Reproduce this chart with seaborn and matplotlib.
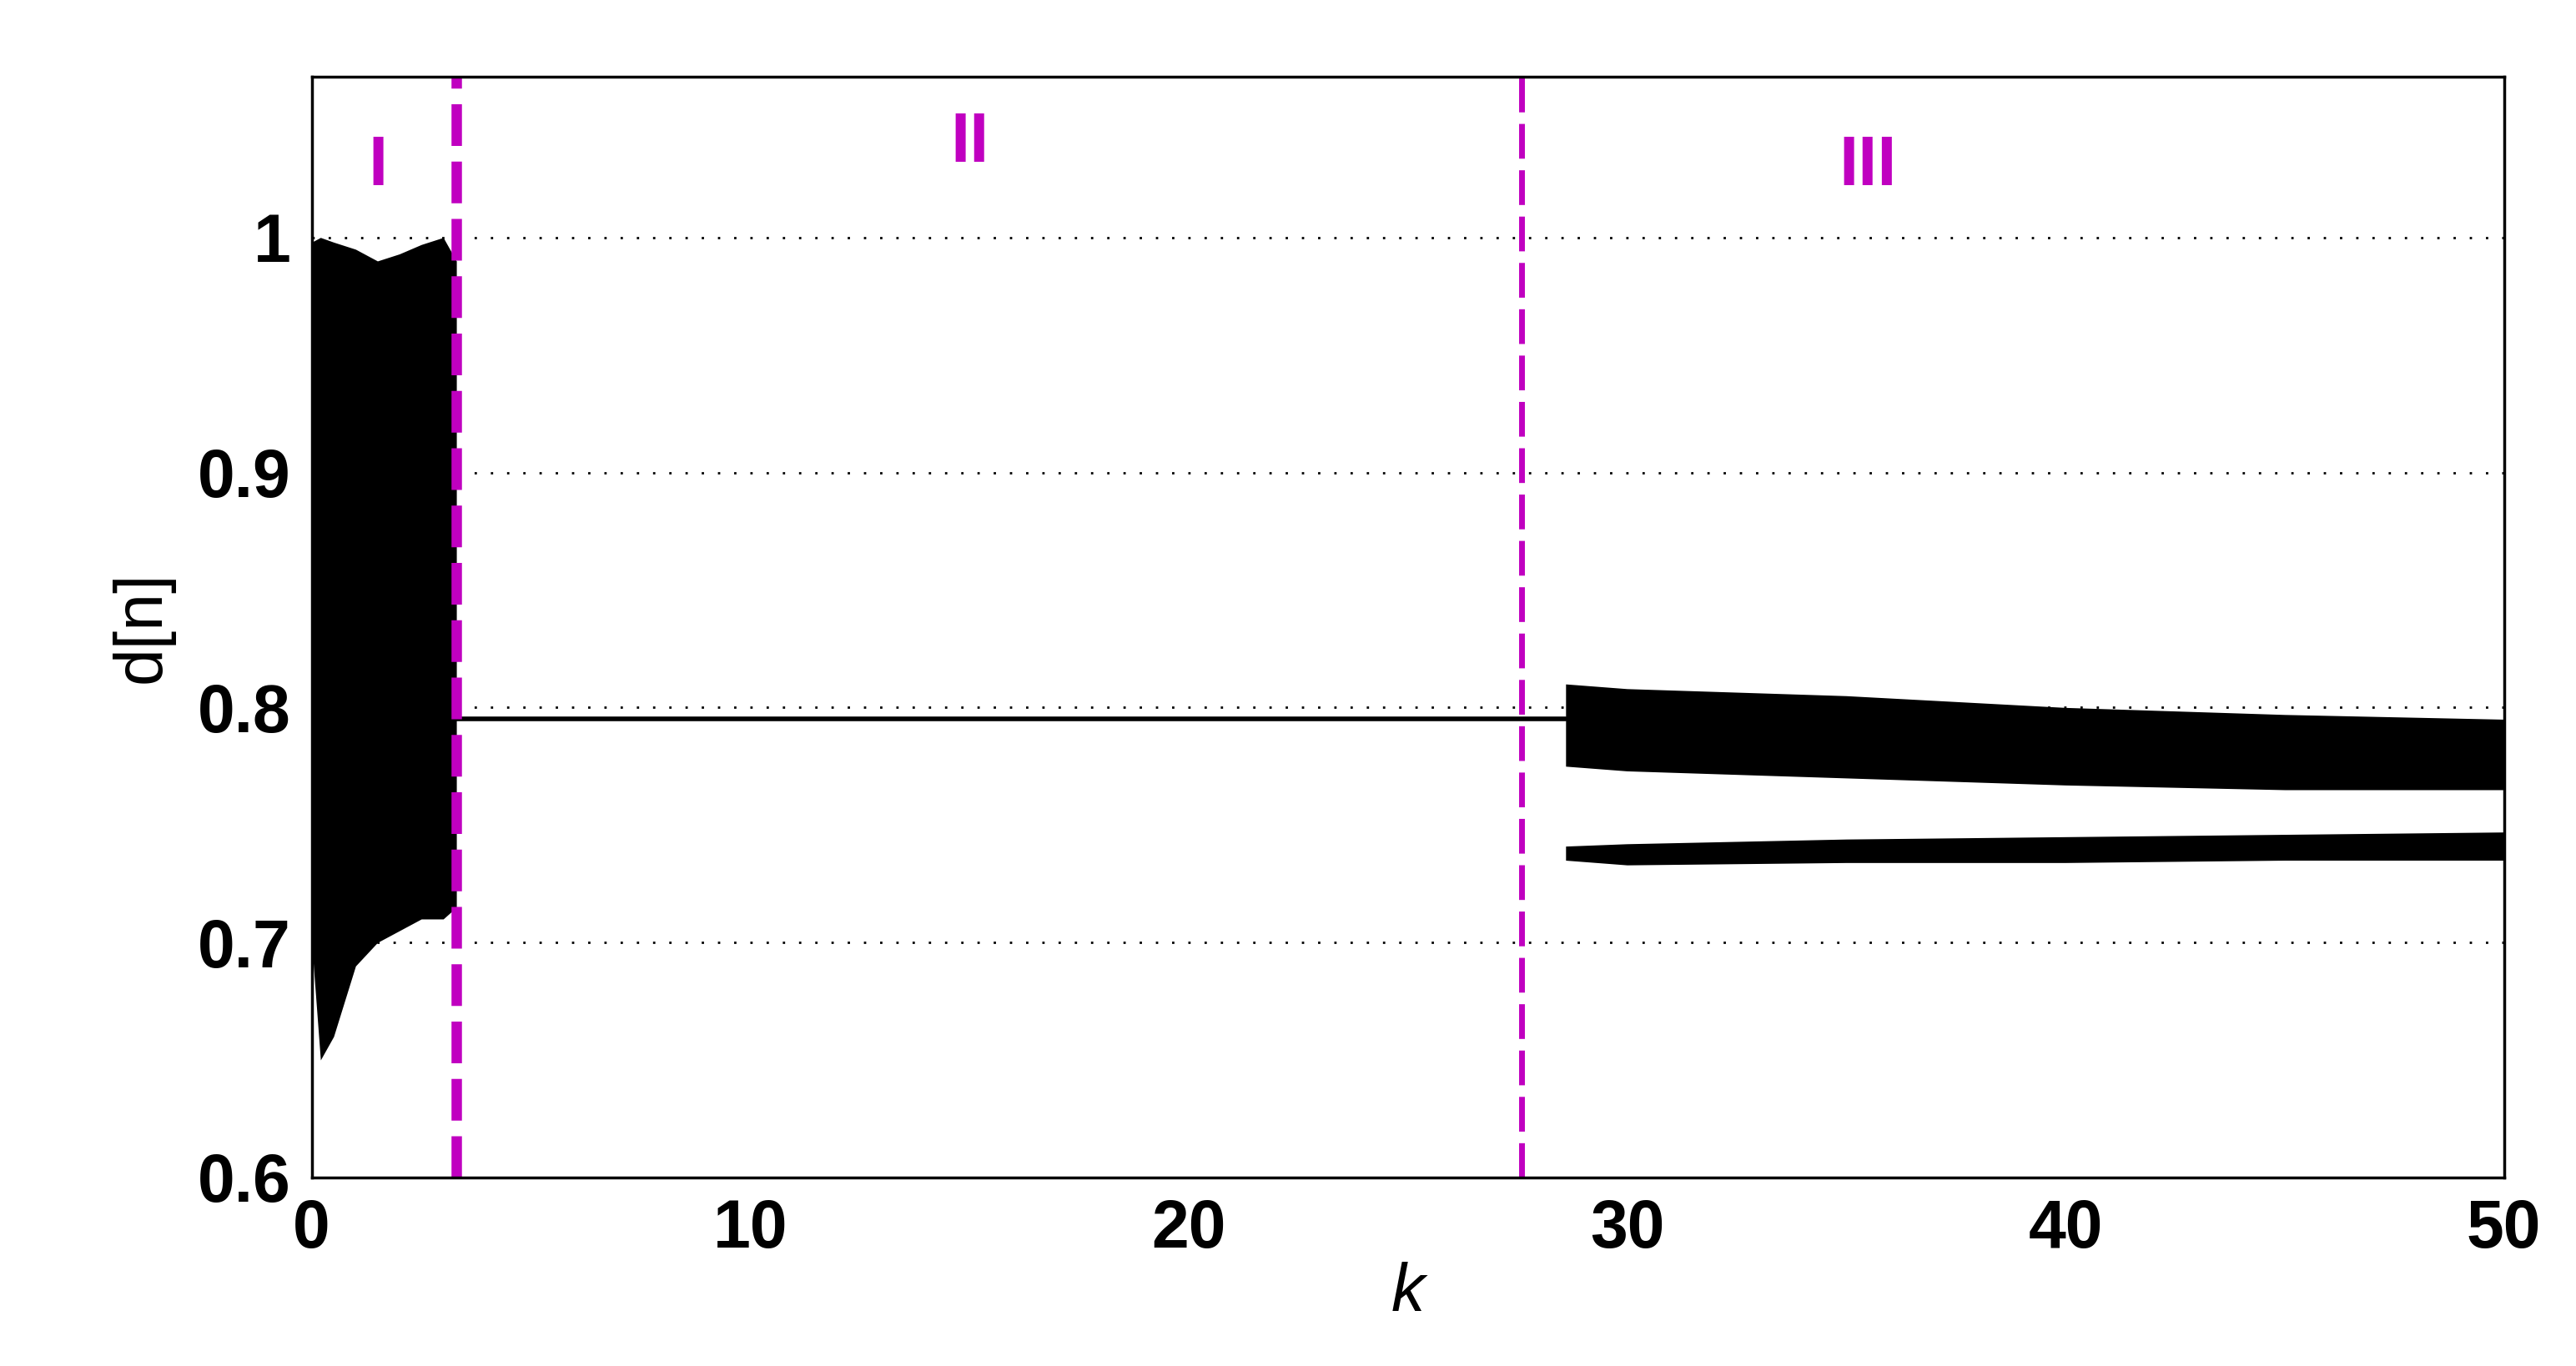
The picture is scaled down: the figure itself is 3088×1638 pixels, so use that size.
import numpy as np
import matplotlib
matplotlib.use("Agg")
import matplotlib.pyplot as plt
import seaborn as sns
import pandas as pd

sns.set_theme(style="white")
plt.rcParams['font.family'] = ['Liberation Sans', 'DejaVu Sans']

# Region I envelope (chaotic band)
k1 = [0.0, 0.2, 0.5, 1.0, 1.5, 2.0, 2.5, 3.0, 3.3]
lo1 = [0.70, 0.65, 0.66, 0.69, 0.70, 0.705, 0.71, 0.71, 0.715]
hi1 = [0.998, 1.0, 0.998, 0.995, 0.99, 0.993, 0.997, 1.0, 0.99]
# Region II fixed point
k2 = [3.3, 28.6]
d2 = [0.795, 0.795]
# Region III upper band
k3 = [28.6, 30, 35, 40, 45, 50]
lo3 = [0.775, 0.773, 0.770, 0.767, 0.765, 0.765]
hi3 = [0.810, 0.808, 0.805, 0.800, 0.797, 0.795]
# Region III lower band
k4 = [28.6, 30, 35, 40, 45, 50]
lo4 = [0.735, 0.733, 0.734, 0.734, 0.735, 0.735]
hi4 = [0.741, 0.742, 0.744, 0.745, 0.746, 0.747]

boundaries = [3.3, 27.6]
region_labels = ["I", "II", "III"]
label_pos = [(1.5, 1.03), (15, 1.04), (35.5, 1.03)]

fig = plt.figure(figsize=(30.88, 16.38), dpi=100)
ax = fig.add_axes([0.121, 0.138, 0.851, 0.806])

ax.fill_between(k1, lo1, hi1, color="black", linewidth=0)
sns.lineplot(x=k2, y=d2, ax=ax, color="black", linewidth=4)
ax.fill_between(k3, lo3, hi3, color="black", linewidth=0)
ax.fill_between(k4, lo4, hi4, color="black", linewidth=0)

ax.axvline(boundaries[0], color="#c000c0", linestyle="--", linewidth=9, dashes=(4, 1.5))
ax.axvline(boundaries[1], color="#c000c0", linestyle="--", linewidth=5, dashes=(6, 2))
for t, (x, y) in zip(region_labels, label_pos):
    ax.text(x, y, t, color="#c000c0", fontsize=60, fontweight="bold", ha="center", va="center")

ax.set_xlim(0, 50)
ax.set_ylim(0.6, 1.0685)
ax.set_xticks([0, 10, 20, 30, 40, 50])
ax.set_yticks([0.6, 0.7, 0.8, 0.9, 1.0])
ax.set_yticklabels(["0.6", "0.7", "0.8", "0.9", "1"])
for y in [0.7, 0.8, 0.9, 1.0]:
    ax.axhline(y, color="black", linestyle=(0, (1, 6)), linewidth=2, zorder=0)
ax.tick_params(labelsize=58, direction="in", length=12, width=2, colors="black", pad=18)
for lab in ax.get_xticklabels() + ax.get_yticklabels():
    lab.set_fontweight("bold")
for s in ax.spines.values():
    s.set_linewidth(2.5)
    s.set_color("black")
ax.set_xlabel("k", fontsize=58, style="italic", labelpad=0, color="black")
ax.set_ylabel("d[n]", fontsize=58, labelpad=20, color="black")
fig.savefig("out.png", dpi=100, facecolor="white")
